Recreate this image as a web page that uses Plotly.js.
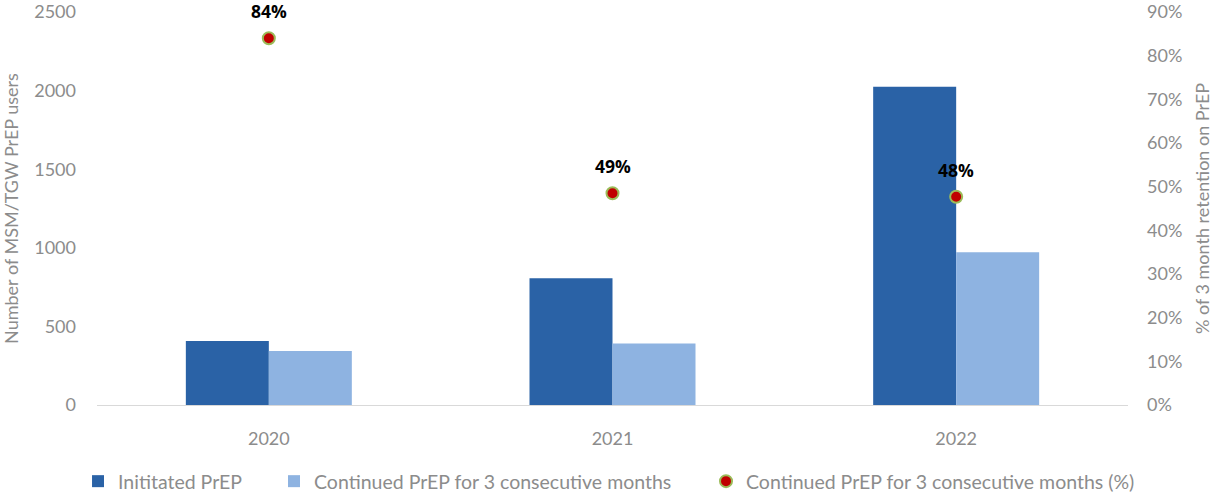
<!DOCTYPE html>
<html>
<head>
<meta charset="utf-8">
<script src="https://cdn.plot.ly/plotly-3.0.1.min.js"></script>
<style>html,body{margin:0;padding:0;background:#fff;}#chart{width:1213px;height:495px;}</style>
</head>
<body>
<div id="chart"></div>
<script>
const years = ["2020", "2021", "2022"];
const initiated = [407, 806, 2025];
const continued = [343, 392, 971];
const retention = [0.840, 0.485, 0.477];
const retentionLabels = ["84%", "49%", "48%"];

const FONT = "Lato, 'Open Sans', sans-serif";
const GREY = "#8c8c8c";

const traces = [
  {
    type: "bar", name: "Inititated PrEP", x: years, y: initiated,
    marker: {color: "#2a62a6"}, hoverinfo: "y", legend: "legend"
  },
  {
    type: "bar", name: "Continued PrEP for 3 consecutive months", x: years, y: continued,
    marker: {color: "#8eb3e1"}, hoverinfo: "y", legend: "legend2"
  },
  {
    type: "scatter", mode: "markers", name: "Continued PrEP for 3 consecutive months (%)",
    x: years, y: retention, yaxis: "y2", legend: "legend3",
    marker: {color: "#c00000", size: 12, line: {color: "#9bbb59", width: 2}}
  }
];

const annotations = years.map((yr, i) => ({
  x: i, y: retention[i], xref: "x", yref: "y2",
  text: "<b>" + retentionLabels[i] + "</b>", showarrow: false,
  yshift: 27, font: {family: "'Open Sans', sans-serif", size: 17.5, color: "#000"}
}));

function legendAt(x) {
  return {
    orientation: "h", x: x, xanchor: "left", y: -0.145, yanchor: "top",
    font: {family: FONT, size: 19.5, color: GREY},
    itemwidth: 30, itemclick: false, bgcolor: "rgba(0,0,0,0)"
  };
}

const layout = {
  width: 1213, height: 495,
  margin: {l: 97, r: 85, t: 12, b: 90, autoexpand: false},
  paper_bgcolor: "#fff", plot_bgcolor: "#fff",
  barmode: "group", bargap: 0.517, bargroupgap: 0,
  font: {family: FONT, color: GREY, size: 18},
  xaxis: {
    type: "category", categoryarray: years, range: [-0.5, 2.5],
    showgrid: false, zeroline: false, showline: true,
    linecolor: "#d9d9d9", linewidth: 1, ticks: "",
    ticklabelstandoff: 17,
    tickfont: {family: FONT, size: 18, color: GREY}
  },
  yaxis: {
    range: [0, 2500], tickvals: [0, 500, 1000, 1500, 2000, 2500],
    showgrid: false, zeroline: false, showline: false, ticks: "",
    tickfont: {family: FONT, size: 18, color: GREY},
    ticklabelstandoff: 20,
    title: {text: "Number of MSM/TGW PrEP users", font: {family: FONT, size: 18, color: GREY}, standoff: 12}
  },
  yaxis2: {
    overlaying: "y", side: "right", range: [0, 0.9],
    tickvals: [0, 0.1, 0.2, 0.3, 0.4, 0.5, 0.6, 0.7, 0.8, 0.9],
    tickformat: ".0%", showgrid: false, zeroline: false, showline: false, ticks: "",
    tickfont: {family: FONT, size: 18, color: GREY},
    ticklabelstandoff: 18,
    title: {text: "% of 3 month retention on PrEP", font: {family: FONT, size: 18, color: GREY}, standoff: 18}
  },
  legend: legendAt(-0.0184),
  legend2: legendAt(0.1717),
  legend3: legendAt(0.5907),
  annotations: annotations,
  showlegend: true
};

Plotly.newPlot("chart", traces, layout, {displayModeBar: false, staticPlot: true});
</script>
</body>
</html>
